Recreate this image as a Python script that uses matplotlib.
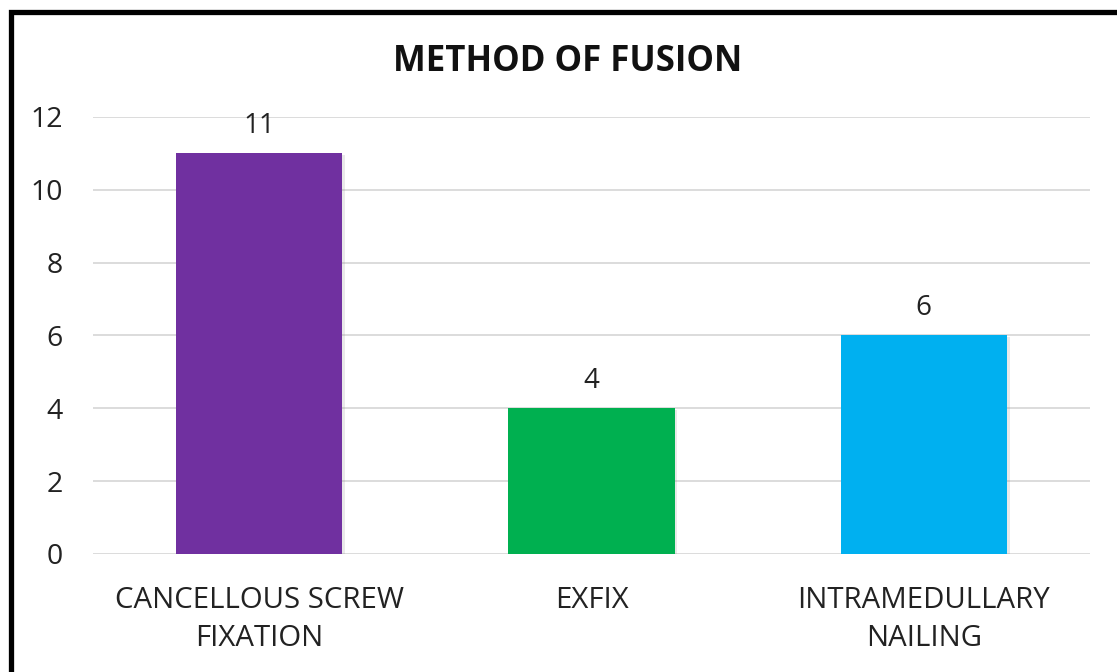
import matplotlib.pyplot as plt
import matplotlib.patheffects as pe
from matplotlib.patches import Rectangle

categories = ['CANCELLOUS SCREW\nFIXATION', 'EXFIX', 'INTRAMEDULLARY\nNAILING']
counts = [11, 4, 6]
colors = ['#7030A0', '#00B050', '#00B0F0']
yticks = [0, 2, 4, 6, 8, 10, 12]

plt.rcParams['font.family'] = ['Open Sans', 'DejaVu Sans']

fig = plt.figure(figsize=(11.17, 6.72), dpi=100)
ax = fig.add_axes([0.0833, 0.1756, 0.8925, 0.6503])

x = range(len(categories))
bars = ax.bar(x, counts, width=0.5, color=colors, zorder=3)
for b in bars:
    b.set_path_effects([pe.SimplePatchShadow(offset=(2, -1), shadow_rgbFace='#888888', alpha=0.18), pe.Normal()])

for xi, v in zip(x, counts):
    ax.text(xi, v + 0.36, str(v), ha='center', va='bottom', fontsize=20, color='#222222')

ax.set_xlim(-0.5, 2.5)
ax.set_ylim(0, 12)
ax.set_yticks(yticks)
ax.set_xticks(list(x))
ax.set_xticklabels(categories, fontsize=21.2, color='#222222', linespacing=1.42)
ax.tick_params(axis='y', labelsize=20.5, labelcolor='#222222', length=0, pad=22)
ax.tick_params(axis='x', length=0, pad=23)
ax.grid(axis='y', color='#D9D9D9', linewidth=1.3, zorder=0)
for s in ax.spines.values():
    s.set_visible(False)

fig.text(0.5085, 0.9075, 'METHOD OF FUSION', ha='center', va='center', fontsize=25, fontweight='bold', color='#111111')

# black frame around the chart area
fig.patches.append(Rectangle((10.5, -20), 1200, 671 - 10.5 + 20, transform=None, fill=False,
                             edgecolor='black', linewidth=3.8))

fig.savefig('out.png', dpi=100)
